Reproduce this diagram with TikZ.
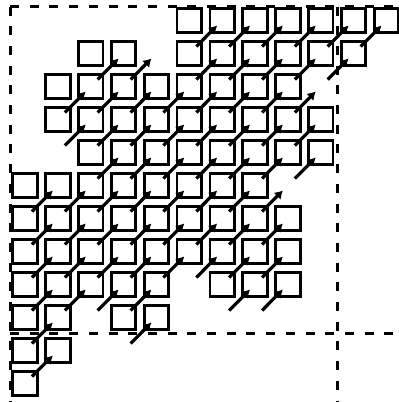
\documentclass[tikz,border=0pt]{standalone}
\usepackage{tikz}
\usetikzlibrary{arrows.meta,calc}
\tikzset{
  cell/.style={draw,line width=2.8pt,minimum size=24.5pt,inner sep=0pt},
  dep/.style={line width=3.2pt,-{Latex[length=8pt,width=10pt]}},
  tileline/.style={line width=3pt,dash pattern=on 9pt off 10.7pt}
}

\begin{document}
\begin{tikzpicture}[x=1pt,y=-1pt]
  \useasboundingbox (0,0) rectangle (399,402);
  % cell centres of the whole grid
  \foreach \r in {0,...,11} {
    \foreach \c in {0,...,11} {
      \coordinate (g-\c-\r) at (25+32.86*\c,20.5+33*\r);
    } }
  % tile borders
  \draw[tileline] (10,6.5) -- (399,6.5);
  \draw[tileline] (10,6.5) -- (10,402);
  \draw[tileline] (337,6.5) -- (337,402);
  \draw[tileline] (10,333.5) -- (395,333.5);
  % cells, row by row
  \foreach \r/\row in {0/{5,...,11}, 1/{2,3,5,6,7,8,9,10}, 2/{1,...,8}, 3/{1,...,9}, 4/{2,...,9}, 5/{0,...,7}, 6/{0,...,8}, 7/{0,...,8}, 8/{0,1,2,3,4,6,7,8}, 9/{0,1,3,4}, 10/{0,1}, 11/{0}} {
    \foreach \c in \row {
      \node[cell] (s-\c-\r) at (g-\c-\r) {};
    } }
  % dependences, pointing up and to the right
  \foreach \r/\row in {1/{5,...,10}, 2/{2,3,5,6,7,8,9}, 3/{1,...,8}, 4/{1,...,8}, 5/{2,...,8}, 6/{0,...,7}, 7/{0,...,7}, 8/{0,...,7}, 9/{0,1,2,3,6,7}, 10/{0,3}, 11/{0}} {
    \foreach \c in \row {
      \pgfmathtruncatemacro{\cn}{\c+1}
      \pgfmathtruncatemacro{\rn}{\r-1}
      \draw[dep] ($(g-\c-\r)+(7,-7)$) -- ($(g-\cn-\rn)+(-5,5)$);
    } }
\end{tikzpicture}
\end{document}
